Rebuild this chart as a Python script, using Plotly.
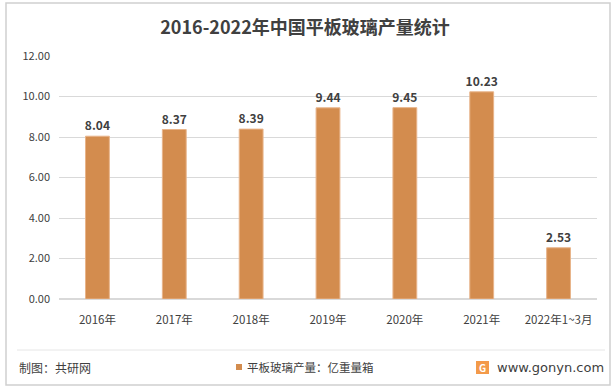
import plotly.graph_objects as go

categories = ["2016年", "2017年", "2018年", "2019年", "2020年", "2021年", "2022年1~3月"]
values = [8.04, 8.37, 8.39, 9.44, 9.45, 10.23, 2.53]
series_name = "平板玻璃产量：亿重量箱"
title = "2016-2022年中国平板玻璃产量统计"
y_ticks = [0, 2, 4, 6, 8, 10, 12]

FONT = "Noto Sans CJK SC, Microsoft YaHei, sans-serif"
BAR = "#D38C4E"
TXT = "#404040"

W, H = 616, 390
L, R, T, B = 59, 19, 56, 91
PW, PH = W - L - R, H - T - B


def px(x):
    return (x - L) / PW


def py(y):
    return (H - B - y) / PH


fig = go.Figure()
fig.add_trace(go.Bar(
    x=categories, y=values, name=series_name,
    marker=dict(color=BAR, line=dict(color="#E8B48A", width=1)),
    text=[f"<b>{v:.2f}</b>" for v in values], textposition="outside",
    textfont=dict(size=12, color=TXT, family=FONT),
    constraintext="none",
    cliponaxis=False, showlegend=False,
))

fig.update_layout(
    width=W, height=H,
    margin=dict(l=L, r=R, t=T, b=B, autoexpand=False),
    paper_bgcolor="white", plot_bgcolor="white",
    font=dict(family=FONT, color=TXT),
    bargap=0.69,
    title=dict(text="<b>" + title + "</b>", x=px(305), xanchor="center", xref="paper",
               y=1 - 28 / H, yanchor="middle",
               font=dict(size=18, color=TXT, family=FONT)),
    showlegend=False,
    xaxis=dict(showgrid=False, showline=False, ticks="", automargin=False,
               ticklabelstandoff=12,
               tickfont=dict(size=11.5, color=TXT, family=FONT)),
    yaxis=dict(range=[0, 12], tickvals=y_ticks, ticktext=[f"{t:.2f}" for t in y_ticks],
               showgrid=True, gridcolor="#D9D9D9", gridwidth=1, zeroline=True,
               zerolinecolor="#D9D9D9", ticks="", showline=False, automargin=False,
               ticklabelstandoff=8,
               tickfont=dict(size=11, color=TXT, family=FONT)),
)

# outer border
fig.add_shape(type="rect", xref="paper", yref="paper",
              x0=px(6), x1=px(610), y0=py(385), y1=py(3),
              line=dict(color="#D0D0D0", width=1.5), fillcolor="rgba(0,0,0,0)", layer="above")
# footer separator
fig.add_shape(type="line", xref="paper", yref="paper",
              x0=px(17), x1=px(605), y0=py(350), y1=py(350),
              line=dict(color="#E6E6E6", width=1))

fy = py(367)
fig.add_annotation(text="制图：共研网", xref="paper", yref="paper", x=px(17), y=fy,
                   xanchor="left", yanchor="middle", showarrow=False,
                   font=dict(size=12, color=TXT, family=FONT))
# legend marker + text
fig.add_shape(type="rect", xref="paper", yref="paper",
              x0=px(236), x1=px(242), y0=py(370), y1=py(364),
              line=dict(width=0), fillcolor=BAR)
fig.add_annotation(text=series_name, xref="paper", yref="paper", x=px(245), y=fy,
                   xanchor="left", yanchor="middle", showarrow=False,
                   font=dict(size=11.5, color=TXT, family=FONT))
# logo
fig.add_shape(type="rect", xref="paper", yref="paper",
              x0=px(476), x1=px(489), y0=py(374), y1=py(361),
              line=dict(width=0), fillcolor="#F39A4A")
fig.add_annotation(text="<b>G</b>", xref="paper", yref="paper", x=px(482.5), y=py(367.5),
                   xanchor="center", yanchor="middle", showarrow=False,
                   font=dict(size=10, color="white", family=FONT))
fig.add_annotation(text="www.gonyn.com", xref="paper", yref="paper", x=px(606), y=fy,
                   xanchor="right", yanchor="middle", showarrow=False,
                   font=dict(size=13, color=TXT, family="DejaVu Sans, sans-serif"))

fig.write_html("out.html", config={"displayModeBar": False},
               post_script="document.body.style.margin='0';document.body.style.overflow='hidden';")
